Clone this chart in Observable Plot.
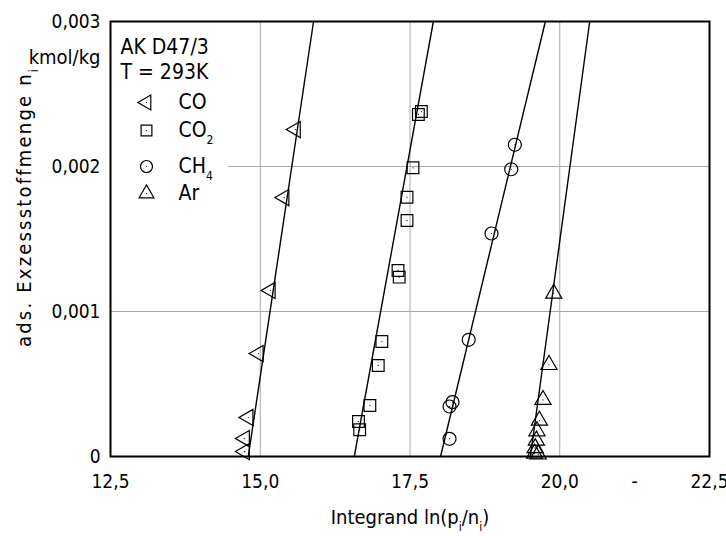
<!DOCTYPE html>
<html><head><meta charset="utf-8">
<script src="https://cdn.jsdelivr.net/npm/d3@7"></script>
<script src="https://cdn.jsdelivr.net/npm/@observablehq/plot@0.6"></script>
<style>
body{margin:0;background:#fff;}
#chart svg{font-family:"DejaVu Sans Condensed",sans-serif;background:#fff;}
</style></head><body><div id="chart"></div>
<script>
// ---- data (n in kmol/kg, x = ln(p_i/n_i)) ----
const coX  = [15.59, 15.40, 15.17, 14.97, 14.80, 14.74, 14.74];
const coY  = [0.002255, 0.001786, 0.001145, 0.000710, 0.000269, 0.000124, 0.000034];
const co2X = [17.69, 17.64, 17.55, 17.45, 17.45, 17.30, 17.32, 17.03, 16.97, 16.83, 16.64, 16.66];
const co2Y = [0.002379, 0.002359, 0.001991, 0.001788, 0.001628, 0.001283, 0.001237, 0.000793, 0.000628, 0.000352, 0.000241, 0.000184];
const ch4X = [19.25, 19.19, 18.86, 18.48, 18.21, 18.16, 18.16];
const ch4Y = [0.002150, 0.001981, 0.001538, 0.000805, 0.000375, 0.000345, 0.000122];
const arX  = [19.90, 19.82, 19.72, 19.66, 19.62, 19.61, 19.59, 19.58, 19.64];
const arY  = [0.001124, 0.000632, 0.000391, 0.000248, 0.000175, 0.000110, 0.000059, 0.000021, 0.000015];

const seriesNames = ["CO", "CO_2", "CH_4", "Ar"];
const fitX0 = [14.80, 16.57, 18.01, 19.51];   // line x at n = 0
const fitX1 = [15.89, 17.89, 19.76, 20.50];   // line x at n = 0.003
const fitYEnds = [0, 0.003];

const xTicks = [12.5, 15, 17.5, 20, 21.25, 22.5];
const xTickLabels = ["12,5", "15,0", "17,5", "20,0", "-", "22,5"];
const yTicks = [0, 0.001, 0.002, 0.003];
const yTickLabels = ["0", "0,001", "0,002", "0,003"];
const gridX = [15, 17.5, 20];
const gridY = [0.001, 0.002];

const titleLines = ["AK D47/3", "T = 293K"];
const yUnit = "kmol/kg";
const xLabel = "Integrand ln(p_i/n_i)";
const yLabel = "ads. Exzessstoffmenge n_i";

// ---- build ----
const zip = (xs, ys) => xs.map((x, i) => ({x, y: ys[i]}));
const coData = zip(coX, coY), co2Data = zip(co2X, co2Y), ch4Data = zip(ch4X, ch4Y), arData = zip(arX, arY);
const fitData = [];
fitX0.forEach((x0, i) => { fitData.push({x: x0, y: fitYEnds[0], s: i}); fitData.push({x: fitX1[i], y: fitYEnds[1], s: i}); });

const triLeft = {draw(ctx, size) {
  const a = Math.sqrt(size / (3 * Math.sqrt(3))), s3 = Math.sqrt(3);
  ctx.moveTo(-2 * a, 0); ctx.lineTo(a, -s3 * a); ctx.lineTo(a, s3 * a); ctx.closePath();
}};
const symbols = [triLeft, "square", "circle", "triangle"];
const radii = [6, 6.6, 6.5, 6];
const datasets = [coData, co2Data, ch4Data, arData];
const mk = {stroke: "black", strokeWidth: 1.2, fill: "none"};
const txt = {text: d => d, lineAnchor: "middle"};

const marks = [
  Plot.ruleX(gridX, {stroke: "#a8a8a8", strokeWidth: 1}),
  Plot.ruleY(gridY, {stroke: "#a8a8a8", strokeWidth: 1}),
  (index, scales, values, dims) => {
    const r = document.createElementNS("http://www.w3.org/2000/svg", "rect");
    r.setAttribute("x", dims.marginLeft + 1); r.setAttribute("y", dims.marginTop + 1);
    r.setAttribute("width", 117); r.setAttribute("height", 190); r.setAttribute("fill", "white");
    return r;
  },
  Plot.line(fitData, {x: "x", y: "y", z: "s", stroke: "black", strokeWidth: 1.4}),
];
datasets.forEach((d, i) => {
  marks.push(Plot.dot(d, {x: "x", y: "y", symbol: symbols[i], r: radii[i], ...mk}));
  marks.push(Plot.dot(d, {x: "x", y: "y", r: 0.6, fill: "black"}));
});
// legend inside frame
const rowDy = [81, 109, 145, 172];
titleLines.forEach((t, i) => marks.push(Plot.text([t], {...txt, frameAnchor: "top-left", dx: 10, dy: 26 + i * 25, textAnchor: "start", fontSize: 21})));
seriesNames.forEach((n, i) => {
  marks.push(Plot.dot([n], {frameAnchor: "top-left", dx: 36, dy: rowDy[i], symbol: symbols[i], r: radii[i] * 0.92, ...mk}));
  marks.push(Plot.dot([n], {frameAnchor: "top-left", dx: 36, dy: rowDy[i], r: 0.6, fill: "black"}));
  marks.push(Plot.text([n], {...txt, frameAnchor: "top-left", dx: 68, dy: rowDy[i], textAnchor: "start", fontSize: 21}));
});
marks.push(
  Plot.frame({stroke: "black", strokeWidth: 2}),
  Plot.axisX(xTicks, {tickFormat: d => xTickLabels[xTicks.indexOf(d)], tickSize: 0, tickPadding: 18, fontSize: 19, label: null}),
  Plot.axisY(yTicks, {tickFormat: d => yTickLabels[yTicks.indexOf(d)], tickSize: 0, tickPadding: 10, fontSize: 19, label: null}),
  Plot.text([yUnit], {...txt, frameAnchor: "top-left", dx: -10, dy: 36, textAnchor: "end", fontSize: 20}),
  Plot.text([xLabel], {...txt, frameAnchor: "bottom", dy: 61, textAnchor: "middle", fontSize: 20}),
  Plot.text([yLabel], {...txt, frameAnchor: "left", dx: -86, dy: -32, rotate: -90, textAnchor: "middle", fontSize: 20})
);

const svg = Plot.plot({
  width: 726, height: 536,
  marginLeft: 110, marginRight: 17, marginTop: 21, marginBottom: 80,
  x: {domain: [12.5, 22.5]},
  y: {domain: [0, 0.003]},
  style: {fontFamily: "DejaVu Sans Condensed, sans-serif", color: "black", background: "white"},
  marks
});

// subscripts: "a_b" -> a + lowered small b
d3.select(svg).selectAll("text").each(function () {
  const t = this.textContent;
  if (!t || !t.includes("_")) return;
  const parts = t.split(/_(\w)/);
  const sel = d3.select(this);
  sel.text(null);
  if (t === yLabel) sel.attr("letter-spacing", 2.2);
  let shifted = false;
  parts.forEach((p, k) => {
    if (k % 2 === 1) {
      sel.append("tspan").attr("dy", 7).attr("font-size", 12).attr("fill", "black").text(p);
      shifted = true;
    } else if (p) {
      const ts = sel.append("tspan").attr("fill", "black").text(p);
      if (shifted) { ts.attr("dy", -7); shifted = false; }
    }
  });
});
document.getElementById("chart").appendChild(svg);
</script></body></html>
